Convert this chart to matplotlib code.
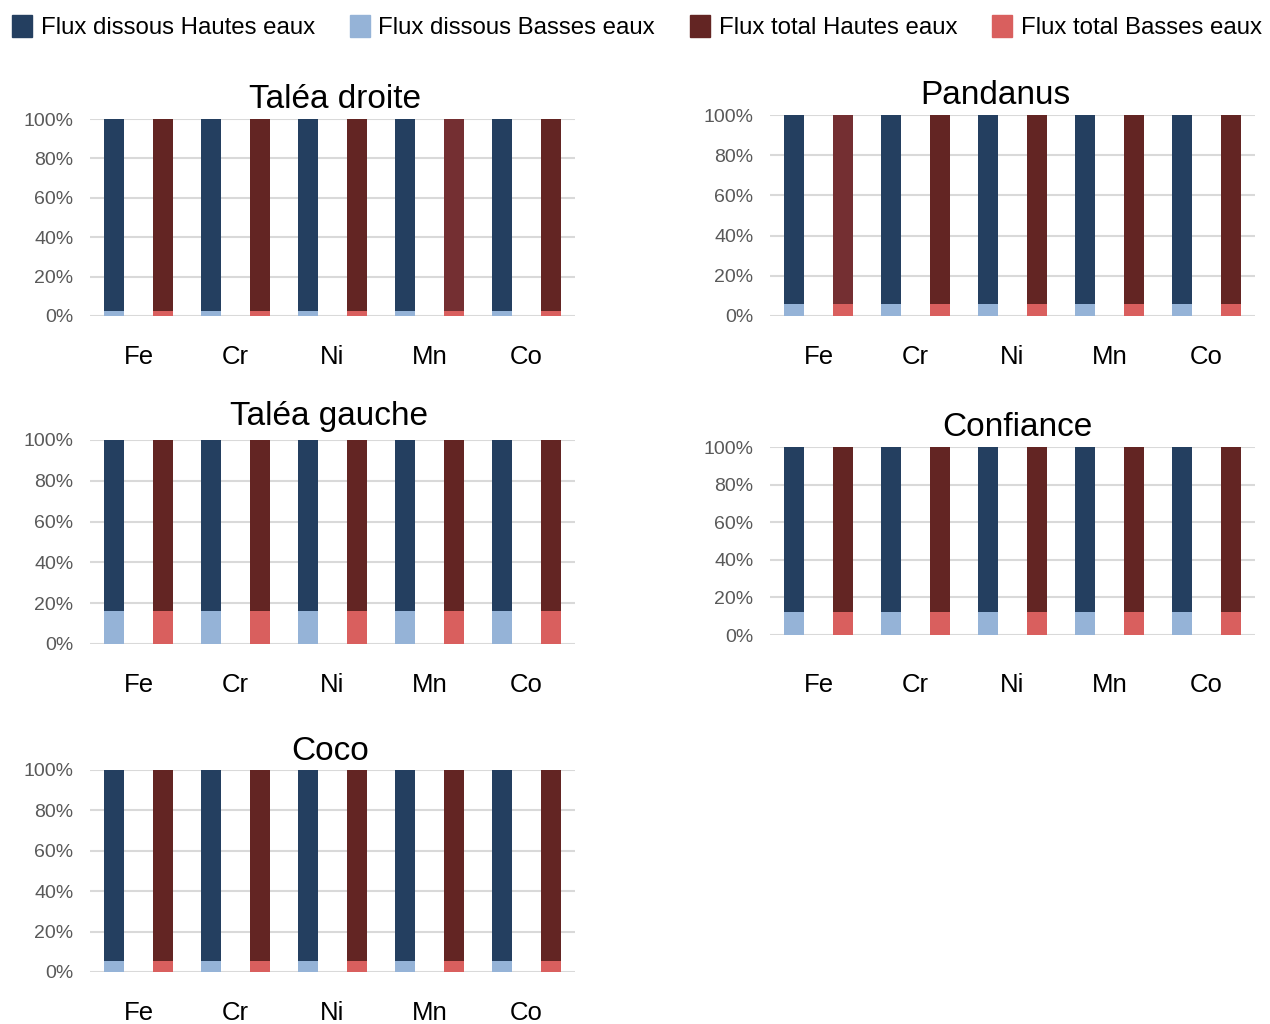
import matplotlib
matplotlib.use("Agg")
import matplotlib.pyplot as plt
from matplotlib.patches import Patch
import numpy as np

plt.rcParams['font.family'] = ['Liberation Sans', 'DejaVu Sans']

# ---- data ----
elements = ["Fe", "Cr", "Ni", "Mn", "Co"]
series_names = ["Flux dissous Hautes eaux", "Flux dissous Basses eaux",
                "Flux total Hautes eaux", "Flux total Basses eaux"]
sites = ["Taléa droite", "Pandanus", "Taléa gauche", "Confiance", "Coco"]

# share (%) of flux during low water (Basses eaux), per element
talea_droite_dissous_basses = [2.5, 2.5, 2.5, 2.5, 2.5]
talea_droite_total_basses = [2.5, 2.5, 2.5, 2.5, 2.5]
pandanus_dissous_basses = [5.8, 5.8, 5.8, 5.8, 5.8]
pandanus_total_basses = [5.8, 5.8, 5.8, 5.8, 5.8]
talea_gauche_dissous_basses = [16.0, 16.0, 16.0, 16.0, 16.0]
talea_gauche_total_basses = [16.0, 16.0, 16.0, 16.0, 16.0]
confiance_dissous_basses = [12.5, 12.5, 12.5, 12.5, 12.5]
confiance_total_basses = [12.5, 12.5, 12.5, 12.5, 12.5]
coco_dissous_basses = [5.6, 5.6, 5.6, 5.6, 5.6]
coco_total_basses = [5.6, 5.6, 5.6, 5.6, 5.6]

site_data = {
    "Taléa droite": (talea_droite_dissous_basses, talea_droite_total_basses),
    "Pandanus": (pandanus_dissous_basses, pandanus_total_basses),
    "Taléa gauche": (talea_gauche_dissous_basses, talea_gauche_total_basses),
    "Confiance": (confiance_dissous_basses, confiance_total_basses),
    "Coco": (coco_dissous_basses, coco_total_basses),
}

# ---- styles ----
C_DIS_HAUT = "#243F60"
C_DIS_BAS = "#95B3D7"
C_TOT_HAUT = "#632523"
C_TOT_HAUT_ALT = "#742F32"
C_TOT_BAS = "#D95F5E"
alt_highlight = {"Taléa droite": "Mn", "Pandanus": "Fe"}

W, H = 1270, 1024
fig = plt.figure(figsize=(W / 100, H / 100), dpi=100)

# layout: left, right, y_top(100%), y_zero(0%), title x center, title offset px, xlabel pad
layout = {
    "Taléa droite": (90, 575, 119, 316, 335, 20, 21),
    "Pandanus": (770, 1255, 115, 316, 995, 20, 21),
    "Taléa gauche": (90, 575, 440, 644, 329, 24, 21),
    "Confiance": (770, 1255, 447, 635, 1017, 20, 27),
    "Coco": (90, 575, 770, 972, 330, 19, 21),
}

for site in sites:
    l, r, yt, y0, tx, toff, xpad = layout[site]
    ax = fig.add_axes([l / W, 1 - y0 / H, (r - l) / W, (y0 - yt) / H])
    dis_b, tot_b = site_data[site]
    dis_b = np.array(dis_b)
    tot_b = np.array(tot_b)
    idx = np.arange(len(elements))
    xd = 2 * idx
    xt = 2 * idx + 1
    bw = 0.41
    ax.bar(xd, dis_b, width=bw, color=C_DIS_BAS, zorder=3)
    ax.bar(xd, 100 - dis_b, bottom=dis_b, width=bw, color=C_DIS_HAUT, zorder=3)
    ax.bar(xt, tot_b, width=bw, color=C_TOT_BAS, zorder=3)
    tcol = [C_TOT_HAUT_ALT if alt_highlight.get(site) == e else C_TOT_HAUT for e in elements]
    ax.bar(xt, 100 - tot_b, bottom=tot_b, width=bw, color=tcol, zorder=3)

    ax.set_xlim(-0.5, 2 * len(elements) - 0.5)
    ax.set_ylim(0, 100)
    ax.set_yticks(np.arange(0, 101, 20))
    ax.set_yticklabels([f"{v}%" for v in range(0, 101, 20)])
    ax.yaxis.grid(True, color="#D9D9D9", linewidth=1.5, zorder=0)
    ax.set_axisbelow(True)
    ax.set_xticks(2 * idx + 0.5)
    ax.set_xticklabels(elements)
    ax.tick_params(axis="y", length=0, pad=12, labelsize=14, labelcolor="#595959")
    ax.tick_params(axis="x", length=0, pad=xpad, labelsize=18.5, labelcolor="black")
    for s in ax.spines.values():
        s.set_visible(False)
    ax.set_facecolor("none")
    fig.text(tx / W, 1 - (yt - toff) / H, site, ha="center", va="center", fontsize=24)

handles = [Patch(color=C_DIS_HAUT), Patch(color=C_DIS_BAS),
           Patch(color=C_TOT_HAUT), Patch(color=C_TOT_BAS)]
fig.legend(handles, series_names, loc="upper left", bbox_to_anchor=(-0.004, 1.002),
           ncol=4, frameon=False, fontsize=17.3, handlelength=0.85, handleheight=1.05,
           handletextpad=0.35, columnspacing=1.45, borderaxespad=0.3)

fig.savefig("out.png", dpi=100, facecolor="white")
